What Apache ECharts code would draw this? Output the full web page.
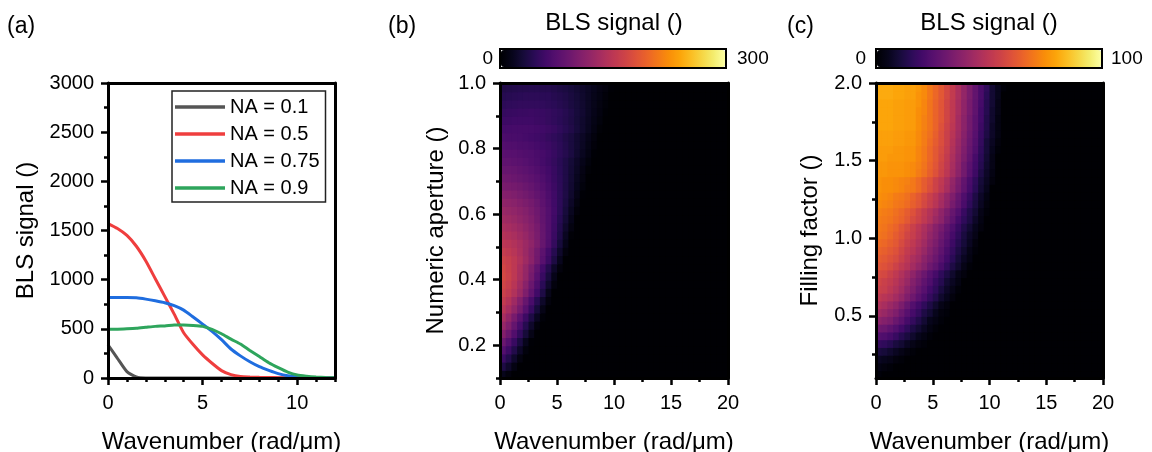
<!DOCTYPE html>
<html>
<head>
<meta charset="utf-8">
<script src="https://cdn.jsdelivr.net/npm/echarts@6/dist/echarts.min.js"></script>
<style>
  html, body { margin: 0; padding: 0; background: #ffffff; }
  #chart { width: 1152px; height: 452px; }
</style>
</head>
<body>
<div id="chart"></div>
<script>
// ---------- Panel (a): BLS signal vs wavenumber for four numerical apertures ----------
const waveA = [0,0.5,1,1.5,2,2.5,3,3.5,4,4.5,5,5.5,6,6.5,7,7.5,8,8.5,9,9.5,10,10.5,11,11.5,12];
const na01  = [338,200,65,10,0,0,0,0,0,0,0,0,0,0,0,0,0,0,0,0,0,0,0,0,0];
const na05  = [1570,1520,1450,1340,1190,1010,830,650,460,340,235,150,75,35,15,10,7,5,3,2,1,0,0,0,0];
const na075 = [818,818,818,815,802,785,765,735,690,620,548,475,390,295,225,165,115,78,45,22,10,4,1,0,0];
const na09  = [497,497,500,505,515,525,530,538,540,535,525,495,450,395,345,280,218,155,105,60,30,18,10,5,2];
const lineNames = ['NA = 0.1', 'NA = 0.5', 'NA = 0.75', 'NA = 0.9'];
const lineColors = ['#555555', '#ef3e3e', '#1f6ddf', '#2ea55c'];

// tick values
const ticksAx = [0, 5, 10];
const minorAx = [1, 2, 3, 4, 6, 7, 8, 9, 11, 12];
const ticksAy = [0, 500, 1000, 1500, 2000, 2500, 3000];
const minorAy = [250, 750, 1250, 1750, 2250, 2750];
const ticksMapX = [0, 5, 10, 15, 20];
const minorMapX = [2.5, 7.5, 12.5, 17.5];
const ticksNA = [0.2, 0.4, 0.6, 0.8, 1.0];
const minorNA = [0.1, 0.3, 0.5, 0.7, 0.9];
const ticksFF = [0.5, 1.0, 1.5, 2.0];
const minorFF = [0.25, 0.75, 1.25, 1.75];

// ---------- Map cells: wavenumber column centres, row centres ----------
const waveCells = [0.25,0.75,1.25,1.75,2.25,2.75,3.25,3.75,4.25,4.75,
                   5.25,5.75,6.25,6.75,7.25,7.75,8.25,8.75,9.25,9.75,
                   10.25,10.75,11.25,11.75,12.25,12.75,13.25,13.75,14.25,14.75,
                   15.25,15.75,16.25,16.75,17.25,17.75,18.25,18.75,19.25,19.75];
const naCells = [0.1125,0.1375,0.1625,0.1875,0.2125,0.2375,0.2625,0.2875,0.3125,0.3375,
                 0.3625,0.3875,0.4125,0.4375,0.4625,0.4875,0.5125,0.5375,0.5625,0.5875,
                 0.6125,0.6375,0.6625,0.6875,0.7125,0.7375,0.7625,0.7875,0.8125,0.8375,
                 0.8625,0.8875,0.9125,0.9375,0.9625,0.9875];
const ffCells = [0.125,0.175,0.225,0.275,0.325,0.375,0.425,0.475,0.525,0.575,
                 0.625,0.675,0.725,0.775,0.825,0.875,0.925,0.975,1.025,1.075,
                 1.125,1.175,1.225,1.275,1.325,1.375,1.425,1.475,1.525,1.575,
                 1.625,1.675,1.725,1.775,1.825,1.875,1.925,1.975];

// Panel (b): BLS signal, one row per numerical aperture (bottom to top)
const blsByNA = [
  [15,6,0,0,0,0,0,0,0,0, 0,0,0,0,0,0,0,0,0,0, 0,0,0,0,0,0,0,0,0,0, 0,0,0,0,0,0,0,0,0,0],
  [36,23,9,0,0,0,0,0,0,0, 0,0,0,0,0,0,0,0,0,0, 0,0,0,0,0,0,0,0,0,0, 0,0,0,0,0,0,0,0,0,0],
  [55,40,23,8,0,0,0,0,0,0, 0,0,0,0,0,0,0,0,0,0, 0,0,0,0,0,0,0,0,0,0, 0,0,0,0,0,0,0,0,0,0],
  [73,57,39,21,5,0,0,0,0,0, 0,0,0,0,0,0,0,0,0,0, 0,0,0,0,0,0,0,0,0,0, 0,0,0,0,0,0,0,0,0,0],
  [90,73,54,34,15,1,0,0,0,0, 0,0,0,0,0,0,0,0,0,0, 0,0,0,0,0,0,0,0,0,0, 0,0,0,0,0,0,0,0,0,0],
  [107,91,71,50,30,12,0,0,0,0, 0,0,0,0,0,0,0,0,0,0, 0,0,0,0,0,0,0,0,0,0, 0,0,0,0,0,0,0,0,0,0],
  [122,106,85,64,42,23,6,0,0,0, 0,0,0,0,0,0,0,0,0,0, 0,0,0,0,0,0,0,0,0,0, 0,0,0,0,0,0,0,0,0,0],
  [135,119,99,78,56,36,18,3,0,0, 0,0,0,0,0,0,0,0,0,0, 0,0,0,0,0,0,0,0,0,0, 0,0,0,0,0,0,0,0,0,0],
  [147,134,118,98,76,53,31,12,0,0, 0,0,0,0,0,0,0,0,0,0, 0,0,0,0,0,0,0,0,0,0, 0,0,0,0,0,0,0,0,0,0],
  [156,144,128,109,87,65,43,22,6,0, 0,0,0,0,0,0,0,0,0,0, 0,0,0,0,0,0,0,0,0,0, 0,0,0,0,0,0,0,0,0,0],
  [163,154,141,125,104,82,59,36,14,0, 0,0,0,0,0,0,0,0,0,0, 0,0,0,0,0,0,0,0,0,0, 0,0,0,0,0,0,0,0,0,0],
  [168,159,147,131,112,90,68,45,24,6, 0,0,0,0,0,0,0,0,0,0, 0,0,0,0,0,0,0,0,0,0, 0,0,0,0,0,0,0,0,0,0],
  [171,163,151,136,120,98,76,54,33,13, 0,0,0,0,0,0,0,0,0,0, 0,0,0,0,0,0,0,0,0,0, 0,0,0,0,0,0,0,0,0,0],
  [169,161,151,137,121,102,82,61,41,21, 6,0,0,0,0,0,0,0,0,0, 0,0,0,0,0,0,0,0,0,0, 0,0,0,0,0,0,0,0,0,0],
  [165,159,151,141,128,113,95,76,56,35, 16,0,0,0,0,0,0,0,0,0, 0,0,0,0,0,0,0,0,0,0, 0,0,0,0,0,0,0,0,0,0],
  [158,153,146,137,125,112,96,79,61,42, 23,6,0,0,0,0,0,0,0,0, 0,0,0,0,0,0,0,0,0,0, 0,0,0,0,0,0,0,0,0,0],
  [150,147,142,135,126,116,103,87,71,51, 31,13,0,0,0,0,0,0,0,0, 0,0,0,0,0,0,0,0,0,0, 0,0,0,0,0,0,0,0,0,0],
  [144,140,136,129,122,112,101,87,72,55, 37,18,2,0,0,0,0,0,0,0, 0,0,0,0,0,0,0,0,0,0, 0,0,0,0,0,0,0,0,0,0],
  [137,134,129,124,117,109,99,86,72,57, 40,23,8,0,0,0,0,0,0,0, 0,0,0,0,0,0,0,0,0,0, 0,0,0,0,0,0,0,0,0,0],
  [130,127,123,118,112,105,95,84,72,58, 43,28,13,0,0,0,0,0,0,0, 0,0,0,0,0,0,0,0,0,0, 0,0,0,0,0,0,0,0,0,0],
  [124,121,118,113,108,101,93,83,72,60, 46,31,17,4,0,0,0,0,0,0, 0,0,0,0,0,0,0,0,0,0, 0,0,0,0,0,0,0,0,0,0],
  [117,115,112,107,102,97,89,80,70,59, 47,34,21,8,0,0,0,0,0,0, 0,0,0,0,0,0,0,0,0,0, 0,0,0,0,0,0,0,0,0,0],
  [109,107,104,100,96,91,84,77,68,58, 47,36,24,12,1,0,0,0,0,0, 0,0,0,0,0,0,0,0,0,0, 0,0,0,0,0,0,0,0,0,0],
  [101,99,97,94,90,85,79,73,65,56, 47,36,26,15,5,0,0,0,0,0, 0,0,0,0,0,0,0,0,0,0, 0,0,0,0,0,0,0,0,0,0],
  [94,93,90,87,84,80,75,69,62,54, 46,37,27,17,8,0,0,0,0,0, 0,0,0,0,0,0,0,0,0,0, 0,0,0,0,0,0,0,0,0,0],
  [88,87,85,82,79,75,71,66,60,53, 45,37,28,19,10,2,0,0,0,0, 0,0,0,0,0,0,0,0,0,0, 0,0,0,0,0,0,0,0,0,0],
  [82,81,79,77,74,71,67,62,57,51, 44,37,29,21,13,5,0,0,0,0, 0,0,0,0,0,0,0,0,0,0, 0,0,0,0,0,0,0,0,0,0],
  [77,76,75,73,71,69,66,63,58,53, 47,41,34,25,17,9,1,0,0,0, 0,0,0,0,0,0,0,0,0,0, 0,0,0,0,0,0,0,0,0,0],
  [72,71,70,68,67,65,62,59,56,51, 46,40,33,26,19,11,4,0,0,0, 0,0,0,0,0,0,0,0,0,0, 0,0,0,0,0,0,0,0,0,0],
  [67,66,65,64,62,60,58,56,52,48, 44,38,33,26,20,13,6,0,0,0, 0,0,0,0,0,0,0,0,0,0, 0,0,0,0,0,0,0,0,0,0],
  [62,62,63,63,63,62,61,59,56,53, 48,43,38,31,24,17,9,2,0,0, 0,0,0,0,0,0,0,0,0,0, 0,0,0,0,0,0,0,0,0,0],
  [57,57,58,58,58,58,56,55,52,49, 45,41,36,30,24,18,11,5,0,0, 0,0,0,0,0,0,0,0,0,0, 0,0,0,0,0,0,0,0,0,0],
  [52,53,54,55,55,56,55,54,52,49, 46,42,37,31,26,19,13,7,1,0, 0,0,0,0,0,0,0,0,0,0, 0,0,0,0,0,0,0,0,0,0],
  [47,48,49,50,50,50,50,49,47,45, 42,39,34,30,25,19,14,8,3,0, 0,0,0,0,0,0,0,0,0,0, 0,0,0,0,0,0,0,0,0,0],
  [42,43,44,45,46,46,46,45,45,42, 40,37,33,29,24,19,14,9,4,0, 0,0,0,0,0,0,0,0,0,0, 0,0,0,0,0,0,0,0,0,0],
  [38,39,40,41,41,42,42,41,41,39, 36,34,31,27,23,19,15,10,6,1, 0,0,0,0,0,0,0,0,0,0, 0,0,0,0,0,0,0,0,0,0]
];

// Panel (c): BLS signal, one row per filling factor (bottom to top)
const blsByFF = [
  [1,0,0,0,0,0,0,0,0,0, 0,0,0,0,0,0,0,0,0,0, 0,0,0,0,0,0,0,0,0,0, 0,0,0,0,0,0,0,0,0,0],
  [3,2,1,0,0,0,0,0,0,0, 0,0,0,0,0,0,0,0,0,0, 0,0,0,0,0,0,0,0,0,0, 0,0,0,0,0,0,0,0,0,0],
  [6,5,4,2,1,0,0,0,0,0, 0,0,0,0,0,0,0,0,0,0, 0,0,0,0,0,0,0,0,0,0, 0,0,0,0,0,0,0,0,0,0],
  [11,10,8,6,4,2,1,0,0,0, 0,0,0,0,0,0,0,0,0,0, 0,0,0,0,0,0,0,0,0,0, 0,0,0,0,0,0,0,0,0,0],
  [17,16,14,11,9,6,4,2,1,0, 0,0,0,0,0,0,0,0,0,0, 0,0,0,0,0,0,0,0,0,0, 0,0,0,0,0,0,0,0,0,0],
  [24,23,21,18,14,11,8,5,3,1, 0,0,0,0,0,0,0,0,0,0, 0,0,0,0,0,0,0,0,0,0, 0,0,0,0,0,0,0,0,0,0],
  [31,30,27,24,20,16,12,9,6,3, 1,0,0,0,0,0,0,0,0,0, 0,0,0,0,0,0,0,0,0,0, 0,0,0,0,0,0,0,0,0,0],
  [38,36,34,30,26,21,17,13,9,5, 3,1,0,0,0,0,0,0,0,0, 0,0,0,0,0,0,0,0,0,0, 0,0,0,0,0,0,0,0,0,0],
  [43,41,38,35,30,25,21,17,12,9, 5,2,1,0,0,0,0,0,0,0, 0,0,0,0,0,0,0,0,0,0, 0,0,0,0,0,0,0,0,0,0],
  [47,45,42,39,34,29,24,20,16,12, 8,4,2,0,0,0,0,0,0,0, 0,0,0,0,0,0,0,0,0,0, 0,0,0,0,0,0,0,0,0,0],
  [51,49,47,44,40,35,31,26,22,17, 13,8,5,2,0,0,0,0,0,0, 0,0,0,0,0,0,0,0,0,0, 0,0,0,0,0,0,0,0,0,0],
  [54,53,50,47,43,38,34,29,25,20, 16,11,7,4,1,0,0,0,0,0, 0,0,0,0,0,0,0,0,0,0, 0,0,0,0,0,0,0,0,0,0],
  [56,54,52,49,45,41,36,32,27,23, 18,14,9,6,3,0,0,0,0,0, 0,0,0,0,0,0,0,0,0,0, 0,0,0,0,0,0,0,0,0,0],
  [58,57,54,51,47,43,39,34,30,25, 21,16,12,8,4,2,0,0,0,0, 0,0,0,0,0,0,0,0,0,0, 0,0,0,0,0,0,0,0,0,0],
  [61,60,58,55,51,48,44,40,36,31, 27,22,17,12,8,4,1,0,0,0, 0,0,0,0,0,0,0,0,0,0, 0,0,0,0,0,0,0,0,0,0],
  [63,62,60,58,54,50,46,43,38,34, 30,25,20,15,10,6,3,0,0,0, 0,0,0,0,0,0,0,0,0,0, 0,0,0,0,0,0,0,0,0,0],
  [65,64,62,60,56,52,49,45,41,36, 32,27,22,17,12,8,4,1,0,0, 0,0,0,0,0,0,0,0,0,0, 0,0,0,0,0,0,0,0,0,0],
  [67,66,64,62,58,54,51,47,43,38, 34,29,24,19,14,10,6,2,0,0, 0,0,0,0,0,0,0,0,0,0, 0,0,0,0,0,0,0,0,0,0],
  [69,68,66,63,60,56,53,49,45,40, 36,31,26,21,16,11,7,4,0,0, 0,0,0,0,0,0,0,0,0,0, 0,0,0,0,0,0,0,0,0,0],
  [70,69,67,65,61,58,54,50,46,42, 37,33,28,23,18,13,9,5,2,0, 0,0,0,0,0,0,0,0,0,0, 0,0,0,0,0,0,0,0,0,0],
  [71,70,69,67,65,62,58,55,51,47, 42,38,32,27,21,16,12,7,3,0, 0,0,0,0,0,0,0,0,0,0, 0,0,0,0,0,0,0,0,0,0],
  [72,71,70,68,66,63,60,56,52,48, 44,39,34,29,24,18,13,9,4,1, 0,0,0,0,0,0,0,0,0,0, 0,0,0,0,0,0,0,0,0,0],
  [74,73,72,70,69,67,64,61,57,53, 49,44,39,33,28,22,16,11,6,2, 0,0,0,0,0,0,0,0,0,0, 0,0,0,0,0,0,0,0,0,0],
  [75,74,73,71,70,68,65,62,58,54, 50,45,40,35,29,23,18,12,7,3, 0,0,0,0,0,0,0,0,0,0, 0,0,0,0,0,0,0,0,0,0],
  [76,75,75,74,73,71,70,67,63,59, 55,50,45,39,33,27,21,15,9,5, 0,0,0,0,0,0,0,0,0,0, 0,0,0,0,0,0,0,0,0,0],
  [76,75,75,74,73,72,70,67,63,60, 55,51,46,40,34,28,22,16,10,6, 2,0,0,0,0,0,0,0,0,0, 0,0,0,0,0,0,0,0,0,0],
  [77,77,76,76,76,75,74,71,68,64, 60,55,50,44,38,32,25,19,12,7, 3,0,0,0,0,0,0,0,0,0, 0,0,0,0,0,0,0,0,0,0],
  [77,77,76,76,76,75,74,72,69,65, 61,56,51,45,39,32,26,20,14,8, 4,0,0,0,0,0,0,0,0,0, 0,0,0,0,0,0,0,0,0,0],
  [78,78,77,77,77,76,76,73,70,66, 62,57,52,46,40,34,28,21,15,9, 4,0,0,0,0,0,0,0,0,0, 0,0,0,0,0,0,0,0,0,0],
  [78,78,78,77,77,76,76,73,70,66, 62,58,53,47,41,35,29,23,16,10, 5,1,0,0,0,0,0,0,0,0, 0,0,0,0,0,0,0,0,0,0],
  [79,79,79,78,78,77,77,74,71,67, 63,59,54,48,42,36,30,24,17,10, 6,2,0,0,0,0,0,0,0,0, 0,0,0,0,0,0,0,0,0,0],
  [79,79,79,78,78,77,77,74,71,68, 64,59,54,49,43,37,31,25,18,12, 7,3,0,0,0,0,0,0,0,0, 0,0,0,0,0,0,0,0,0,0],
  [80,80,80,79,79,78,78,75,72,69, 65,60,55,50,44,38,32,26,19,13, 7,3,0,0,0,0,0,0,0,0, 0,0,0,0,0,0,0,0,0,0],
  [80,80,80,79,79,78,78,75,72,69, 65,61,56,51,44,38,32,26,20,13, 8,3,0,0,0,0,0,0,0,0, 0,0,0,0,0,0,0,0,0,0],
  [80,80,80,79,79,78,78,75,73,69, 65,61,56,51,45,39,33,27,20,14, 8,4,0,0,0,0,0,0,0,0, 0,0,0,0,0,0,0,0,0,0],
  [80,80,80,79,79,78,78,76,73,69, 65,61,56,51,45,39,33,27,21,14, 9,4,0,0,0,0,0,0,0,0, 0,0,0,0,0,0,0,0,0,0],
  [81,81,81,80,80,79,79,76,74,70, 66,62,57,52,46,40,34,28,22,15, 9,5,0,0,0,0,0,0,0,0, 0,0,0,0,0,0,0,0,0,0],
  [81,81,81,80,80,79,79,77,74,70, 66,62,57,52,46,40,34,28,22,16, 9,5,1,0,0,0,0,0,0,0, 0,0,0,0,0,0,0,0,0,0]
];

// inferno colour ramp
const INFERNO = ['#000004','#07051b','#160b39','#2a0b56','#420a68','#57106e','#6a176e','#7f1e6c',
                 '#932667','#a82e5f','#bc3754','#cc4248','#dd513a','#ea632a','#f37819','#f98e09',
                 '#fca50a','#fbbe23','#f6d746','#f4ed6f','#fcffa4'];

const FONT = "'Liberation Sans', Arial, Helvetica, sans-serif";
const BLACK = '#000000';
const AXIS_W = 3;

// ---------- layout of the three plot frames ----------
const grids = [
  { left: 108, top: 83, width: 227, height: 295 },
  { left: 500, top: 83, width: 228, height: 295 },
  { left: 876, top: 83, width: 227, height: 295 }
];

function axisSet(gridIndex, dir, min, max, major, minor, name, nameGap, fmt) {
  const isX = dir === 'x';
  const line = { show: true, onZero: false, lineStyle: { color: BLACK, width: AXIS_W } };
  const tickStyle = { color: BLACK, width: 2.5 };
  const main = {
    type: 'value', gridIndex, min, max, z: 10,
    position: isX ? 'bottom' : 'left',
    axisLine: line,
    axisTick: { show: true, inside: false, length: 7, customValues: major, lineStyle: tickStyle },
    axisLabel: {
      show: true, customValues: major, margin: isX ? 15 : 14,
      fontSize: 20, color: BLACK, fontFamily: FONT, formatter: fmt
    },
    splitLine: { show: false },
    name, nameLocation: 'middle', nameGap,
    nameTextStyle: { fontSize: 24, color: BLACK, fontFamily: FONT }
  };
  const small = {
    type: 'value', gridIndex, min, max, z: 10,
    position: isX ? 'bottom' : 'left',
    axisLine: { show: false },
    axisTick: { show: true, inside: false, length: 4, customValues: minor, lineStyle: tickStyle },
    axisLabel: { show: false },
    splitLine: { show: false }
  };
  const opposite = {
    type: 'value', gridIndex, min, max, z: 10,
    position: isX ? 'top' : 'right',
    axisLine: line,
    axisTick: { show: false }, axisLabel: { show: false }, splitLine: { show: false }
  };
  return [main, small, opposite];
}

const oneDecimal = v => v.toFixed(1);
const plain = v => String(v);

const xAxes = [].concat(
  axisSet(0, 'x', 0, 12, ticksAx, minorAx, 'Wavenumber (rad/μm)', 52, plain),
  axisSet(1, 'x', 0, 20, ticksMapX, minorMapX, 'Wavenumber (rad/μm)', 52, plain),
  axisSet(2, 'x', 0, 20, ticksMapX, minorMapX, 'Wavenumber (rad/μm)', 52, plain)
);
const yAxes = [].concat(
  axisSet(0, 'y', 0, 3000, ticksAy, minorAy, 'BLS signal ()', 70, plain),
  axisSet(1, 'y', 0.1, 1.0, ticksNA, minorNA, 'Numeric aperture ()', 52, oneDecimal),
  axisSet(2, 'y', 0.1, 2.0, ticksFF, minorFF, 'Filling factor ()', 54, oneDecimal)
);

// ---------- series ----------
function lineSeries(name, ys, color) {
  return {
    type: 'line', name, xAxisIndex: 0, yAxisIndex: 0,
    data: waveA.map((x, i) => [x, ys[i]]),
    symbol: 'none', showSymbol: false, smooth: 0.2,
    lineStyle: { color, width: 3 }, itemStyle: { color },
    z: 3
  };
}

function cellSeries(axisIndex, xs, ys, rows) {
  const dx = xs[1] - xs[0];
  const dy = ys[1] - ys[0];
  const data = [];
  rows.forEach((row, j) => {
    if (row.length !== xs.length) throw new Error('row ' + j + ' has ' + row.length + ' cells');
    row.forEach((v, i) => data.push([xs[i], ys[j], v]));
  });
  return {
    type: 'custom', xAxisIndex: axisIndex, yAxisIndex: axisIndex,
    data, clip: true, encode: { x: 0, y: 1 }, silent: true,
    renderItem(params, api) {
      const cx = api.value(0), cy = api.value(1);
      const p0 = api.coord([cx - dx / 2, cy + dy / 2]);
      const p1 = api.coord([cx + dx / 2, cy - dy / 2]);
      return {
        type: 'rect',
        shape: { x: p0[0], y: p0[1], width: p1[0] - p0[0] + 1, height: p1[1] - p0[1] + 1 },
        style: { fill: api.visual('color') }
      };
    }
  };
}

if (blsByNA.length !== naCells.length || blsByFF.length !== ffCells.length) {
  throw new Error('row count mismatch');
}

const series = [
  lineSeries(lineNames[0], na01, lineColors[0]),
  lineSeries(lineNames[1], na05, lineColors[1]),
  lineSeries(lineNames[2], na075, lineColors[2]),
  lineSeries(lineNames[3], na09, lineColors[3]),
  cellSeries(3, waveCells, naCells, blsByNA),
  cellSeries(6, waveCells, ffCells, blsByFF)
];

// ---------- colour bars and annotation text ----------
function colorBar(seriesIndex, max, left) {
  return {
    type: 'continuous', seriesIndex, dimension: 2, min: 0, max,
    orient: 'horizontal', left: left + 1, top: 50,
    itemWidth: 17, itemHeight: 224,
    calculable: false, hoverLink: false, padding: 0, text: null,
    inRange: { color: INFERNO }
  };
}

function txt(x, y, text, size, align) {
  return {
    type: 'text', x, y, z: 20,
    style: { text, fill: BLACK, font: size + 'px ' + FONT, textAlign: align, textVerticalAlign: 'middle' }
  };
}

const graphics = [
  txt(7, 27, '(a)', 23, 'left'),
  txt(388, 27, '(b)', 23, 'left'),
  txt(787, 27, '(c)', 23, 'left'),
  txt(614, 23, 'BLS signal ()', 24, 'center'),
  txt(989, 23, 'BLS signal ()', 24, 'center'),
  txt(493, 59, '0', 19, 'right'),
  txt(737, 59, '300', 19, 'left'),
  txt(866, 59, '0', 19, 'right'),
  txt(1111, 59, '100', 19, 'left'),
  { type: 'rect', z: 20, shape: { x: 500, y: 49, width: 226, height: 19 },
    style: { fill: null, stroke: BLACK, lineWidth: 2 } },
  { type: 'rect', z: 20, shape: { x: 876, y: 49, width: 226, height: 19 },
    style: { fill: null, stroke: BLACK, lineWidth: 2 } }
];

const chart = echarts.init(document.getElementById('chart'), null, { renderer: 'canvas' });
chart.setOption({
  animation: false,
  backgroundColor: '#ffffff',
  grid: grids.map(g => Object.assign({ containLabel: false, outerBoundsMode: 'none', show: false }, g)),
  xAxis: xAxes,
  yAxis: yAxes,
  legend: {
    data: lineNames, orient: 'vertical', left: 172, top: 91,
    icon: 'rect', itemWidth: 50, itemHeight: 3.5, itemGap: 7, padding: [6, 6, 4, 3],
    borderColor: '#222222', borderWidth: 1.5, backgroundColor: '#ffffff',
    textStyle: { fontSize: 20, lineHeight: 20, color: BLACK, fontFamily: FONT },
    selectedMode: false
  },
  visualMap: [colorBar(4, 300, 500), colorBar(5, 100, 876)],
  graphic: graphics,
  series
});
</script>
</body>
</html>
